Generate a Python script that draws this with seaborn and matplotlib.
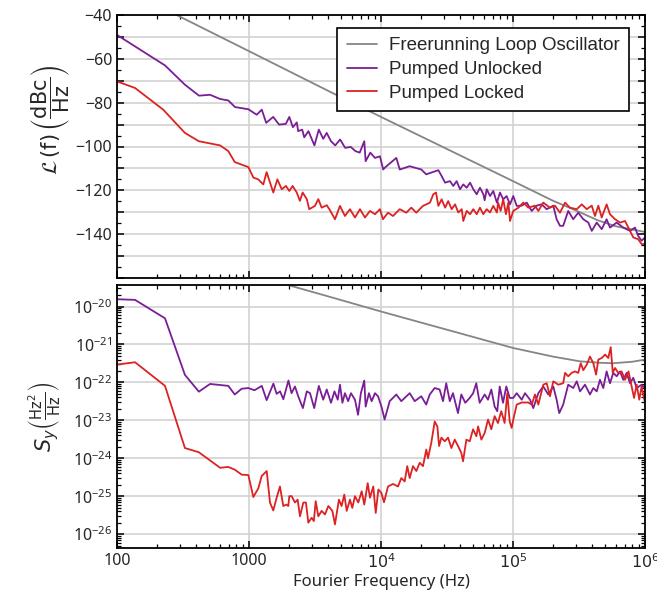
import numpy as np
import pandas as pd
import matplotlib
matplotlib.use("Agg")
import matplotlib.pyplot as plt
import seaborn as sns
from matplotlib.ticker import MultipleLocator, FixedLocator, LogLocator, NullFormatter, FuncFormatter, FixedFormatter

# ---------------- data ----------------
SERIES = ["Freerunning Loop Oscillator", "Pumped Unlocked", "Pumped Locked"]
COLORS = ["#858585", "#7a1e96", "#dc2222"]

X_TICKS = [100, 1000, 10000, 100000, 1000000]
X_TICK_LABELS = ["100", "1000", "$10^4$", "$10^5$", "$10^6$"]

# top panel: single sideband phase noise L(f) in dBc/Hz
TOP_GREY_F = [100, 283, 1000, 4100, 10000, 100000, 200000, 300000, 440000, 600000, 1000000]
TOP_GREY_L = [-27, -40, -56.5, -75, -86.5, -115.8, -124.7, -129.2, -133.7, -136.4, -139]

TOP_PURPLE_F = [100, 231, 327, 418, 507, 603, 697, 783, 989, 1143, 1250, 1350, 1525, 1690, 1900, 2020, 2150, 2300, 2360,
                2530, 2620, 2820, 2950, 3130, 3380, 3650, 3880, 4180, 4500, 4900, 5350, 5900, 6400, 6900, 7470, 7650, 8300,
                9000, 9820, 10400, 10670, 13060, 13870, 16490, 20200, 22000,
                27200, 28800, 30600, 33300, 35300, 37400, 39700, 42000, 44600, 47300, 50000, 53100, 56200, 59600, 61000,
                63200, 67000, 70900, 75500, 79700, 84300, 89400, 94900, 100500, 106700,
                116400, 127000, 138600, 151000, 165000,
                180000, 202000, 214000, 227000, 240000, 262000, 286000, 312000, 341000, 372000, 395000, 431000, 470000,
                512000, 543000, 610000, 685000, 770000, 840000, 888000, 942000, 1000000]
TOP_PURPLE_L = [-49.1, -63, -71.8, -76.8, -76.4, -78.3, -79, -82, -83, -85.5, -83.2, -89.2, -86.5, -90, -89.7, -86.5, -91.2,
                -89, -93, -92.3, -95.8, -93, -95.8, -99.5, -92.3, -96.5, -93.8, -97.6, -99.5, -96.8, -100.6, -100.2, -102.1,
                -102.8, -97.6, -106.7, -102.8, -105.2, -104.5, -110.5, -109.7, -105.2, -110.5, -109, -110.5, -112.7,
                -110.8, -113.5, -116.5, -115.8, -118, -115.8, -119.5, -117.3, -118.8, -116.5, -119.5, -121.8, -118.8,
                -121.8, -124.5, -119.5, -122.6, -120.3, -125.6, -121, -124.1, -122.6, -126.4, -122.6, -127.1,
                -127, -125.6, -129.4, -127, -126.4, -128.6, -127, -133.2, -136.2, -136.2, -129.4, -133.2, -130.2, -133.2,
                -134.7, -138.5, -134.7, -137.7, -133.2, -137, -134.7, -137, -138.5, -137, -140.8, -143, -141.5]

TOP_RED_F = [100, 137, 224, 327, 417, 604, 697, 780, 989, 1080, 1176, 1283, 1360, 1528, 1640, 1770, 1907, 2020, 2140, 2300,
             2430, 2550, 2740, 2860, 3160, 3350, 3550, 3880, 4100, 4480, 4890, 5330, 5820, 6350, 6930, 7560, 8250, 9000,
             9820, 10350, 11300, 12330, 13860, 15550, 16960, 18500, 20800,
             23500, 24900, 26100, 27200, 28800, 30600, 32300, 34300, 36400, 38500, 40900, 42000, 44600, 47300, 50000,
             53100, 56200, 59600, 63200, 67000, 70900, 75500, 77100, 80600, 84300, 88400, 92200, 94900, 100500, 110000,
             119700, 130600, 146800, 155500, 169600, 190600, 208000, 227000, 248000, 270000, 304000, 332000, 362000,
             395000, 418000, 443000, 470000, 512000, 543000, 593000, 647000, 706000, 770000, 815000, 888000, 942000, 1000000]
TOP_RED_L = [-70.3, -73.3, -83.2, -93.8, -97.6, -99.5, -102.1, -107.1, -109.4, -114.2, -115, -117.3, -111.7, -121, -115,
             -119.5, -118, -120.3, -118, -121, -124.8, -121, -124, -128.6, -127.1, -124, -127.9, -126.8, -129, -133.2,
             -127.1, -131.7, -128.6, -132.4, -128.6, -132.4, -129.4, -130.9, -128.6, -133.2, -130.2, -131.7, -128.6,
             -130.2, -127.9, -130.2, -127.1,
             -125.6, -121.8, -121, -127.1, -124.1, -127.9, -124.9, -128.6, -126.4, -130.1, -128.6, -134, -129.4, -130.9,
             -128.6, -130.9, -127.9, -130.9, -128.6, -130.1, -127.1, -130.1, -125.6, -129.4, -124.1, -130.9, -125.6, -134,
             -129.4, -127.9,
             -125.6, -127.9, -127, -129.4, -125.6, -127.9, -127, -130.2, -125.6, -127.9, -128.6, -126.4, -128.6, -127,
             -131.7, -127, -132.4, -126.4, -130.9, -133.2, -134.7, -134, -138.5, -141.5, -142.3, -144.5, -144.5]

# bottom panel: fractional frequency noise S_y in Hz^2/Hz
BOT_GREY_F = [100, 1000, 1820, 4100, 10000, 100000, 200000, 320000, 450000, 570000, 800000, 1000000]
BOT_GREY_S = [7.2e-19, 7.2e-20, 4.0e-20, 1.8e-20, 7.4e-21, 8.1e-22, 4.8e-22, 3.6e-22, 3.3e-22, 3.2e-22, 3.5e-22, 4.0e-22]

BOT_PURPLE_F = [100, 137, 231, 327, 417, 507, 697, 780, 880, 989, 1100, 1250, 1360, 1530, 1620, 1720, 1820, 1990, 2100,
                2230, 2360, 2560, 2740, 2900, 3120, 3380, 3650, 3880, 4180, 4440, 4700, 4890, 5100, 5330, 5640, 5920, 6350,
                6700, 7040, 7470, 7650, 8100, 8500, 9000, 9500, 10080, 10650, 11640, 13060, 14250, 16500, 18000, 20200,
                22000, 23400, 25500, 27800, 29500, 31200, 33200, 35100, 38300, 40600, 43500, 47000, 49900, 52700, 55900,
                61000, 64600, 68500, 72600, 76000, 79300, 84000, 89000, 94400, 100500, 106700, 116400, 123300, 134500,
                142500, 155500, 169600, 185000, 202000, 214000, 224000, 240000, 262000, 286000, 304000, 322000, 351000,
                383000, 406000, 431000, 456000, 483000, 512000, 543000, 575000, 610000, 647000, 685000, 726000, 770000,
                815000, 865000, 942000, 1000000]
BOT_PURPLE_S = [1.56e-20, 1.5e-20, 4.9e-21, 1.58e-22, 5.7e-23, 9.1e-23, 8.1e-23, 4.8e-23, 6.8e-23, 7.1e-23, 6.2e-23, 8.1e-23,
                3.4e-23, 9.3e-23, 5.0e-23, 5.8e-23, 3.6e-23, 1.12e-22, 5.2e-23, 7.8e-23, 4.3e-23, 2.1e-23, 5.8e-23, 5.2e-23,
                2.1e-23, 8.1e-23, 3.5e-23, 6.5e-23, 2.9e-23, 5.8e-23, 3.5e-23, 8.7e-23, 2.9e-23, 5.2e-23, 3.2e-23, 5.2e-23,
                3.5e-23, 1.4e-23, 5.2e-23, 1.12e-22, 2.3e-23, 5.2e-23, 3.2e-23, 5.2e-23, 4.3e-23, 2.3e-23, 1.05e-23, 3.2e-23,
                4.8e-23, 3.2e-23, 5.2e-23, 3.2e-23, 4.3e-23, 2.6e-23, 4.8e-23, 7.1e-23, 6.5e-23, 3.2e-23, 9.5e-23, 3.2e-23,
                5.2e-23, 1.55e-23, 4.8e-23, 2.9e-23, 3.9e-23, 5.2e-23, 9.5e-23, 2.9e-23, 4.8e-23, 3.5e-23, 6.5e-23, 2.3e-23,
                1.74e-23, 7.8e-23, 2.9e-23, 7.8e-23, 3.9e-23, 3.9e-23, 5.2e-23, 3.5e-23, 5.2e-23, 3.5e-23, 2.1e-23, 5.2e-23,
                7.8e-23, 4.8e-23, 7.8e-23, 3.5e-23, 1.55e-23, 2.6e-23, 8.7e-23, 7.1e-23, 1.07e-22, 5.8e-23, 8.7e-23, 4.8e-23,
                7.1e-23, 5.8e-23, 1.17e-22, 7.1e-23, 1.95e-22, 9.5e-23, 1.78e-22, 1.45e-22, 1.95e-22, 1.17e-22, 1.78e-22,
                9.5e-23, 1.32e-22, 7.1e-23, 8.7e-23, 7.1e-23]

BOT_RED_F = [100, 137, 231, 327, 417, 604, 697, 780, 880, 989, 1078, 1176, 1248, 1362, 1442, 1527, 1620, 1716, 1819, 1920,
             1985, 2020, 2105, 2230, 2336, 2434, 2580, 2700, 2815, 2984, 3100, 3200, 3350, 3552, 3764, 3990, 4280, 4480,
             4800, 5030, 5270, 5500, 5820, 6060, 6350, 6730, 7140, 7470, 7930, 8250, 8740, 9120, 9550, 10050, 10540,
             11300, 12330, 13450, 14250, 15110, 15810, 16490, 17470, 18520, 19640, 20800, 22040, 22710, 24060, 25520,
             26730, 27530, 28670, 30410, 32210, 34130, 36200, 38330, 40600, 41830, 44340, 47000, 49840, 52790, 54400,
             57600, 61100, 64700, 68500, 72600, 76900, 81500, 86400, 90500, 94400, 97700, 100500, 106700, 116400, 130600,
             138600, 146800, 155500, 169600, 180000, 190600, 202000, 220000, 240000, 248000, 262000, 278000, 295000,
             312000, 326000, 341000, 362000, 383000, 406000, 426000, 443000, 470000, 499000, 527000, 550000, 570000,
             593000, 627000, 665000, 706000, 750000, 793000, 826000, 865000, 905000, 942000, 1000000]
BOT_RED_S = [2.95e-22, 3.4e-22, 8.1e-23, 1.86e-24, 1.44e-24, 5.6e-25, 5.9e-25, 5.0e-25, 3.7e-25, 3.6e-25, 9.5e-26, 1.6e-25,
             3.4e-25, 4.6e-25, 6.8e-26, 4.2e-26, 9.1e-26, 1.8e-25, 5.5e-26, 6.0e-26, 5.5e-26, 1.0e-25, 1.0e-25, 6.8e-26,
             8.1e-26, 2.95e-26, 6.8e-26, 6.8e-26, 2.0e-26, 2.7e-26, 2.2e-26, 7.4e-26, 2.95e-26, 4.1e-26, 3.3e-26, 5.5e-26,
             4.1e-26, 1.8e-26, 8.1e-26, 5.5e-26, 1.1e-25, 4.1e-26, 8.1e-26, 4.9e-26, 1.0e-25, 6.8e-26, 1.35e-25, 6.0e-26,
             2.2e-25, 9.1e-26, 1.8e-25, 3.6e-26, 1.5e-25, 1.23e-25, 6.9e-26, 1.8e-25, 2.1e-25, 1.8e-25, 3.0e-25, 2.45e-25,
             6.2e-25, 3.0e-25, 6.2e-25, 4.6e-25, 7.6e-25, 6.2e-25, 1.7e-24, 1.0e-24, 2.6e-24, 9.3e-24, 6.9e-24, 2.1e-24,
             3.5e-24, 2.8e-24, 3.5e-24, 1.86e-24, 3.1e-24, 2.1e-24, 1.38e-24, 8.3e-25, 3.1e-24, 2.8e-24, 5.8e-24, 3.8e-24,
             6.9e-24, 3.1e-24, 4.7e-24, 1.05e-23, 5.8e-24, 1.29e-23, 8.5e-24, 1.74e-23, 8.5e-24, 5.2e-23, 9.3e-24, 6.3e-24,
             1.05e-23, 2.6e-23, 2.95e-23, 2.95e-23, 2.6e-23, 4.8e-23, 2.6e-23, 8.7e-23, 9.5e-23, 4.3e-23, 1.07e-22, 8.7e-23,
             9.5e-23, 1.78e-22, 1.45e-22, 1.78e-22, 1.95e-22, 1.78e-22, 3.2e-22, 2.1e-22, 2.95e-22, 4.8e-22, 3.2e-22,
             1.6e-22, 4.0e-22, 4.4e-22, 5.4e-22, 4.4e-22, 8.5e-22, 1.78e-22, 2.4e-22, 1.78e-22, 1.95e-22, 1.17e-22,
             1.95e-22, 7.8e-23, 3.9e-23, 8.7e-23, 3.5e-23, 7.8e-23, 2.9e-23]

# ---------------- tables ----------------
def long_table(pairs):
    frames = []
    for name, f, v in pairs:
        frames.append(pd.DataFrame({"f": f, "v": v, "series": name}))
    return pd.concat(frames, ignore_index=True)

top_df = long_table([(SERIES[0], TOP_GREY_F, TOP_GREY_L),
                     (SERIES[1], TOP_PURPLE_F, TOP_PURPLE_L),
                     (SERIES[2], TOP_RED_F, TOP_RED_L)])
bot_df = long_table([(SERIES[0], BOT_GREY_F, BOT_GREY_S),
                     (SERIES[1], BOT_PURPLE_F, BOT_PURPLE_S),
                     (SERIES[2], BOT_RED_F, BOT_RED_S)])

# ---------------- style ----------------
sns.set_style("ticks")
plt.rcParams['font.family'] = ['Noto Sans', 'DejaVu Sans']
plt.rcParams['mathtext.fontset'] = 'dejavusans'
plt.rcParams['axes.linewidth'] = 1.3

W, H = 657, 597
fig = plt.figure(figsize=(W / 100, H / 100), dpi=100)
L, R = 117, 645
ax1 = fig.add_axes([L / W, 1 - 278 / H, (R - L) / W, (278 - 15) / H])
ax2 = fig.add_axes([L / W, 1 - 548 / H, (R - L) / W, (548 - 285) / H])

palette = dict(zip(SERIES, COLORS))
for ax, df in ((ax1, top_df), (ax2, bot_df)):
    sns.lineplot(data=df, x="f", y="v", hue="series", hue_order=SERIES, palette=palette,
                 estimator=None, sort=False, linewidth=1.3, ax=ax, legend=(ax is ax1))

GRID = dict(color="#d2d2d2", linewidth=1.2)


def top_fmt(v, pos):
    iv = int(round(v))
    if iv % 20 != 0 or iv < -150:
        return ""
    return "\u2212%d" % abs(iv) if iv < 0 else "%d" % iv


# top axes
ax1.set_xscale("log")
ax1.set_xlim(100, 1e6)
ax1.set_ylim(-160, -40)
ax1.yaxis.set_major_locator(MultipleLocator(10))
ax1.yaxis.set_minor_locator(MultipleLocator(5))
ax1.yaxis.set_major_formatter(FuncFormatter(top_fmt))
ax1.grid(True, which="major", **GRID)
ax1.set_ylabel(r"$\mathcal{L}\,\mathrm{(f)}\,\left(\dfrac{\mathrm{dBc}}{\mathrm{Hz}}\right)$", fontsize=15)
ax1.yaxis.set_label_coords(-0.085, 0.60)

# bottom axes
ax2.set_xscale("log")
ax2.set_yscale("log")
ax2.set_xlim(100, 1e6)
ax2.set_ylim(4.3e-27, 3.7e-20)
ax2.yaxis.set_major_locator(LogLocator(base=10, numticks=20))
ax2.yaxis.set_minor_locator(LogLocator(base=10, subs=np.arange(2, 10), numticks=20))
ax2.yaxis.set_minor_formatter(NullFormatter())
ax2.grid(True, which="major", **GRID)
ax2.set_ylabel(r"$S_y\left(\frac{\mathrm{Hz}^2}{\mathrm{Hz}}\right)$", fontsize=15)
ax2.yaxis.set_label_coords(-0.104, 0.50)
ax2.set_xlabel("Fourier Frequency (Hz)", fontsize=12, labelpad=2)

for ax in (ax1, ax2):
    ax.xaxis.set_major_locator(FixedLocator(X_TICKS))
    ax.xaxis.set_minor_locator(LogLocator(base=10, subs=np.arange(2, 10), numticks=20))
    ax.xaxis.set_minor_formatter(NullFormatter())
    ax.tick_params(which="both", direction="in", top=True, right=True, labelsize=11.5, color="black")
    ax.tick_params(which="major", length=5, width=1.1)
    ax.tick_params(which="minor", length=3, width=0.9)
    for s in ax.spines.values():
        s.set_color("black")
        s.set_linewidth(1.3)
    ax.set_axisbelow(True)

ax1.set_xlabel("")
ax1.xaxis.set_major_formatter(NullFormatter())
ax2.xaxis.set_major_formatter(FixedFormatter(X_TICK_LABELS))

leg = ax1.legend(loc="upper right", bbox_to_anchor=(629 / W, 1 - 28 / H), bbox_transform=fig.transFigure,
                 borderaxespad=0, frameon=True, fancybox=False, framealpha=1, edgecolor="black",
                 prop={"family": "Liberation Sans", "size": 13.5}, handlelength=1.6, handletextpad=0.65,
                 labelspacing=0.35, borderpad=0.5)
leg.get_frame().set_linewidth(1.2)
for line in leg.get_lines():
    line.set_linewidth(1.3)

fig.savefig("out.png", dpi=100)
